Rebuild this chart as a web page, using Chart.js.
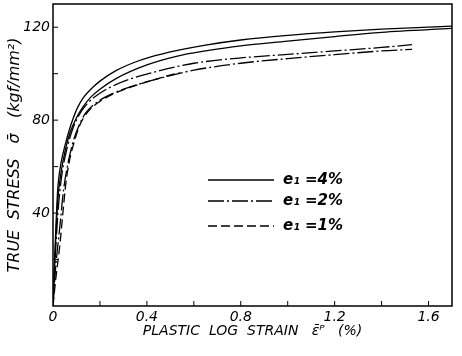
<!DOCTYPE html>
<html>
<head>
<meta charset="utf-8">
<script src="https://cdn.jsdelivr.net/npm/chart.js@4.4.1/dist/chart.umd.min.js"></script>
<style>
  html, body { margin: 0; padding: 0; background: #fff; }
  #wrap { width: 462px; height: 356px; }
</style>
</head>
<body>
<div id="wrap"><canvas id="chart" width="462" height="356"></canvas></div>
<script>
// curves: strain (%) / true stress (kgf/mm2)
const strain4a = [0, 0.01, 0.02, 0.035, 0.051, 0.07, 0.085, 0.105, 0.128, 0.16, 0.2, 0.27, 0.34, 0.41, 0.53, 0.65, 0.8, 1.0, 1.2, 1.4, 1.7];
const stress4a = [0, 28, 50, 62, 69, 76, 80.5, 85.5, 89.5, 93.2, 96.8, 101.4, 104.6, 107, 110, 112.3, 114.5, 116.5, 118, 119.2, 120.5];
const strain4b = [0, 0.01, 0.02, 0.035, 0.05, 0.072, 0.1, 0.13, 0.16, 0.2, 0.27, 0.4, 0.53, 0.65, 0.8, 1.0, 1.2, 1.4, 1.7];
const stress4b = [0, 25, 45, 58, 66, 74.5, 81, 86, 89.8, 93.3, 98, 103.8, 107.6, 109.8, 112, 114, 116, 117.8, 119.5];
const strain2a = [0, 0.01, 0.025, 0.04, 0.06, 0.085, 0.11, 0.145, 0.2, 0.27, 0.34, 0.45, 0.53, 0.6, 0.8, 1.0, 1.2, 1.4, 1.53];
const stress2a = [0, 22, 45, 58, 68, 76.5, 82, 87, 91.6, 95.4, 98.1, 101.2, 103.1, 104.5, 106.8, 108.3, 109.8, 111.3, 112.5];
const strain2b = [0, 0.01, 0.03, 0.045, 0.065, 0.085, 0.11, 0.14, 0.2, 0.25, 0.35, 0.45, 0.6, 0.8, 1.0, 1.2, 1.4, 1.53];
const stress2b = [0, 15, 35, 50, 62, 70.5, 77.5, 83.2, 88.6, 91.3, 95, 97.9, 101.5, 104.5, 106.5, 108.2, 109.8, 110.5];
const strain1 = [0, 0.01, 0.03, 0.043, 0.055, 0.07, 0.09, 0.11, 0.13, 0.17, 0.2, 0.25, 0.34, 0.45, 0.54];
const stress1 = [0, 10, 27, 41, 53, 62.5, 70.5, 76.8, 81, 85.8, 88.1, 91, 94.5, 98, 100.5];

const legendLabels = ["e\u2081 =4%", "e\u2081 =2%", "e\u2081 =1%"];
const xLabels = [0, 0.4, 0.8, 1.2, 1.6];
const yLabels = [40, 80, 120];
const xTicks = [0.2, 0.4, 0.6, 0.8, 1.0, 1.2, 1.4, 1.6];
const yTicks = [20, 40, 60, 80, 100, 120];

const FONT = "'DejaVu Sans', sans-serif";
const dashDot = [16, 3, 2, 3];
const dashed = [9, 4];

function pts(xs, ys) {
  return xs.map((x, i) => ({ x: x, y: ys[i] }));
}

function line(xs, ys, dash) {
  return {
    data: pts(xs, ys),
    borderColor: "#000",
    borderWidth: 1.3,
    borderDash: dash,
    pointRadius: 0,
    fill: false,
    cubicInterpolationMode: "monotone"
  };
}

// frame, inward ticks and the in-plot legend
const decor = {
  id: "decor",
  afterDraw(c) {
    const ctx = c.ctx, a = c.chartArea;
    const xs = c.scales.x, ys = c.scales.y;
    ctx.save();
    ctx.strokeStyle = "#000";
    ctx.lineWidth = 1.5;
    ctx.strokeRect(a.left, a.top, a.right - a.left, a.bottom - a.top);
    ctx.lineWidth = 1;
    xTicks.forEach(v => {
      const p = xs.getPixelForValue(v);
      ctx.beginPath(); ctx.moveTo(p, a.bottom); ctx.lineTo(p, a.bottom - 5); ctx.stroke();
    });
    yTicks.forEach(v => {
      const p = ys.getPixelForValue(v);
      ctx.beginPath(); ctx.moveTo(a.left, p); ctx.lineTo(a.left + 5, p); ctx.stroke();
    });

    const dashes = [[], dashDot, dashed];
    const rows = [0, 21, 46];
    const lx = a.left + 155, ly = a.top + 176;
    ctx.font = "italic bold 15px " + FONT;
    ctx.fillStyle = "#000";
    ctx.textBaseline = "middle";
    legendLabels.forEach((t, i) => {
      const y = ly + rows[i];
      ctx.setLineDash(dashes[i]);
      ctx.lineWidth = 1.3;
      ctx.beginPath(); ctx.moveTo(lx, y); ctx.lineTo(lx + 66, y); ctx.stroke();
      ctx.setLineDash([]);
      ctx.fillText(t, lx + 75, y);
    });
    ctx.restore();
  }
};

new Chart(document.getElementById("chart"), {
  type: "line",
  data: {
    datasets: [
      line(strain4a, stress4a, []),
      line(strain4b, stress4b, []),
      line(strain2a, stress2a, dashDot),
      line(strain2b, stress2b, dashDot),
      line(strain1, stress1, dashed)
    ]
  },
  options: {
    responsive: false,
    animation: false,
    layout: { padding: { top: 4, right: 10, left: 5, bottom: 16 } },
    plugins: { legend: { display: false }, tooltip: { enabled: false } },
    scales: {
      x: {
        type: "linear",
        min: 0,
        max: 1.7,
        grid: { display: false, drawTicks: false, tickLength: 0 },
        border: { display: false },
        afterBuildTicks: s => { s.ticks = xLabels.map(v => ({ value: v })); },
        ticks: {
          autoSkip: false,
          maxRotation: 0,
          color: "#000",
          font: { family: FONT, size: 14, style: "italic" },
          padding: 3,
          callback: v => String(v)
        },
        title: {
          display: true,
          text: "PLASTIC  LOG  STRAIN   \u03b5\u0304\u1d3e   (%)",
          color: "#000",
          font: { family: FONT, size: 14, style: "italic" },
          padding: { top: 0, bottom: 0 }
        },
        afterFit: s => { s.height = 34; s.paddingLeft = 0; s.paddingRight = 0; }
      },
      y: {
        min: 0,
        max: 130,
        grid: { display: false, drawTicks: false, tickLength: 0 },
        border: { display: false },
        afterBuildTicks: s => { s.ticks = yLabels.map(v => ({ value: v })); },
        ticks: {
          color: "#000",
          font: { family: FONT, size: 14, style: "italic" },
          padding: 3,
          callback: v => String(v)
        },
        title: {
          display: true,
          text: "TRUE  STRESS   \u03c3\u0304   (kgf/mm\u00b2)",
          color: "#000",
          font: { family: FONT, size: 16, style: "italic" },
          padding: { top: 0, bottom: 1 }
        },
        afterFit: s => { s.width = 48; s.paddingTop = 0; s.paddingBottom = 0; }
      }
    }
  },
  plugins: [decor]
});
</script>
</body>
</html>
